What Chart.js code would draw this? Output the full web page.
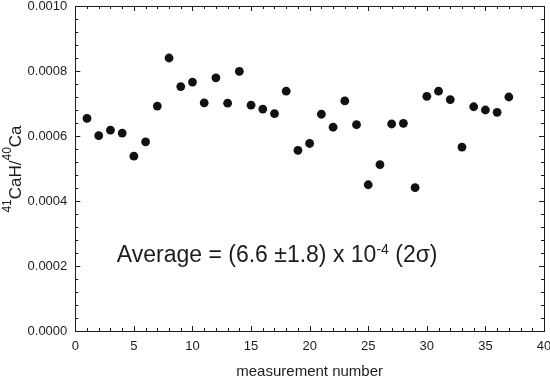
<!DOCTYPE html>
<html>
<head>
<meta charset="utf-8">
<script src="https://cdn.jsdelivr.net/npm/chart.js@4"></script>
<style>
  html, body { margin: 0; padding: 0; background: #fff; }
  #wrap { width: 550px; height: 379px; }
</style>
</head>
<body>
<div id="wrap"><canvas id="c" width="550" height="379"></canvas></div>
<script>
const measurement = [1, 2, 3, 4, 5, 6, 7, 8, 9, 10, 11, 12, 13, 14, 15, 16, 17, 18, 19,
  20, 21, 22, 23, 24, 25, 26, 27, 28, 29, 30, 31, 32, 33, 34, 35, 36, 37];
const ratio = [0.000654, 0.000601, 0.000618, 0.000609, 0.000538, 0.000582, 0.000692, 0.000840,
  0.000752, 0.000766, 0.000702, 0.000779, 0.000701, 0.000799, 0.000695, 0.000683, 0.000669,
  0.000738, 0.000556, 0.000577, 0.000667, 0.000627, 0.000708, 0.000635, 0.000450, 0.000512,
  0.000637, 0.000639, 0.000441, 0.000722, 0.000738, 0.000712, 0.000566, 0.000690, 0.000680,
  0.000673, 0.000720];
const xTicks = [0, 5, 10, 15, 20, 25, 30, 35, 40];
const yTicks = [0, 0.0002, 0.0004, 0.0006, 0.0008, 0.0010];

const FONT = "Arial, 'Liberation Sans', Helvetica, sans-serif";
const INK = '#1c1c1c';

// inward ticks on all four sides plus the frame, the y title and the average note
const framePlugin = {
  id: 'frame',
  afterDraw(chart) {
    const { ctx, chartArea: a, scales: { x, y } } = chart;
    ctx.save();
    ctx.strokeStyle = INK;
    ctx.lineWidth = 1;
    ctx.strokeRect(Math.round(a.left) + 0.5, Math.round(a.top) + 0.5,
      Math.round(a.right - a.left), Math.round(a.bottom - a.top));
    ctx.beginPath();
    for (let i = 0; i <= 40; i++) {
      const px = Math.round(x.getPixelForValue(i)) + 0.5;
      const len = i % 5 === 0 ? 5 : 3;
      ctx.moveTo(px, a.bottom); ctx.lineTo(px, a.bottom - len);
      ctx.moveTo(px, a.top); ctx.lineTo(px, a.top + len);
    }
    for (let i = 0; i <= 25; i++) {
      const py = Math.round(y.getPixelForValue(i * 0.00004)) + 0.5;
      const len = i % 5 === 0 ? 5 : 3;
      ctx.moveTo(a.left, py); ctx.lineTo(a.left + len, py);
      ctx.moveTo(a.right, py); ctx.lineTo(a.right - len, py);
    }
    ctx.stroke();

    // y title: 41CaH/40Ca
    ctx.fillStyle = INK;
    ctx.textBaseline = 'alphabetic';
    ctx.textAlign = 'left';
    const parts = [['41', 12, -10], ['CaH/', 17, 0], ['40', 12, -10], ['Ca', 17, 0]];
    let total = 0;
    parts.forEach(p => { ctx.font = p[1] + 'px ' + FONT; total += ctx.measureText(p[0]).width; });
    ctx.translate(21, 169);
    ctx.rotate(-Math.PI / 2);
    let cx = -total / 2;
    parts.forEach(p => {
      ctx.font = p[1] + 'px ' + FONT;
      ctx.fillText(p[0], cx, p[2]);
      cx += ctx.measureText(p[0]).width;
    });
    ctx.setTransform(1, 0, 0, 1, 0, 0);

    // average note
    const nx = x.getPixelForValue(3.54), ny = y.getPixelForValue(0.000212);
    const note = [['Average = (6.6 \u00b11.8) x 10', 23, 0], ['-4', 14, -8], [' (2\u03c3)', 23, 0]];
    let tx = nx;
    note.forEach(p => {
      ctx.font = p[1] + 'px ' + FONT;
      ctx.fillText(p[0], tx, ny + p[2]);
      tx += ctx.measureText(p[0]).width;
    });
    ctx.restore();
  }
};

new Chart(document.getElementById('c'), {
  type: 'scatter',
  data: {
    datasets: [{
      data: measurement.map((m, i) => ({ x: m, y: ratio[i] })),
      backgroundColor: '#111',
      borderWidth: 0,
      pointRadius: 4.4,
      pointHoverRadius: 4.4
    }]
  },
  plugins: [framePlugin],
  options: {
    responsive: false,
    animation: false,
    events: [],
    layout: { padding: { top: 6, right: 6, left: 0, bottom: 0 } },
    plugins: { legend: { display: false }, tooltip: { enabled: false } },
    scales: {
      x: {
        type: 'linear', min: 0, max: 40,
        afterBuildTicks: s => { s.ticks = xTicks.map(v => ({ value: v })); },
        afterFit: s => { s.height = 48; s.paddingLeft = 0; s.paddingRight = 0; },
        grid: { display: false, drawTicks: false },
        border: { display: false },
        ticks: { color: INK, padding: 9, maxRotation: 0, font: { family: FONT, size: 13, lineHeight: 1 } },
        title: { display: true, text: 'measurement number', color: INK, padding: 0,
          font: { family: FONT, size: 15, lineHeight: 1 } }
      },
      y: {
        type: 'linear', min: 0, max: 0.001,
        afterBuildTicks: s => { s.ticks = yTicks.map(v => ({ value: v })); },
        afterFit: s => { s.width = 75.3; s.paddingTop = 0; s.paddingBottom = 0; },
        grid: { display: false, drawTicks: false },
        border: { display: false },
        ticks: { color: INK, padding: 8, font: { family: FONT, size: 13, lineHeight: 1 },
          callback: v => v.toFixed(4) }
      }
    }
  }
});
</script>
</body>
</html>
